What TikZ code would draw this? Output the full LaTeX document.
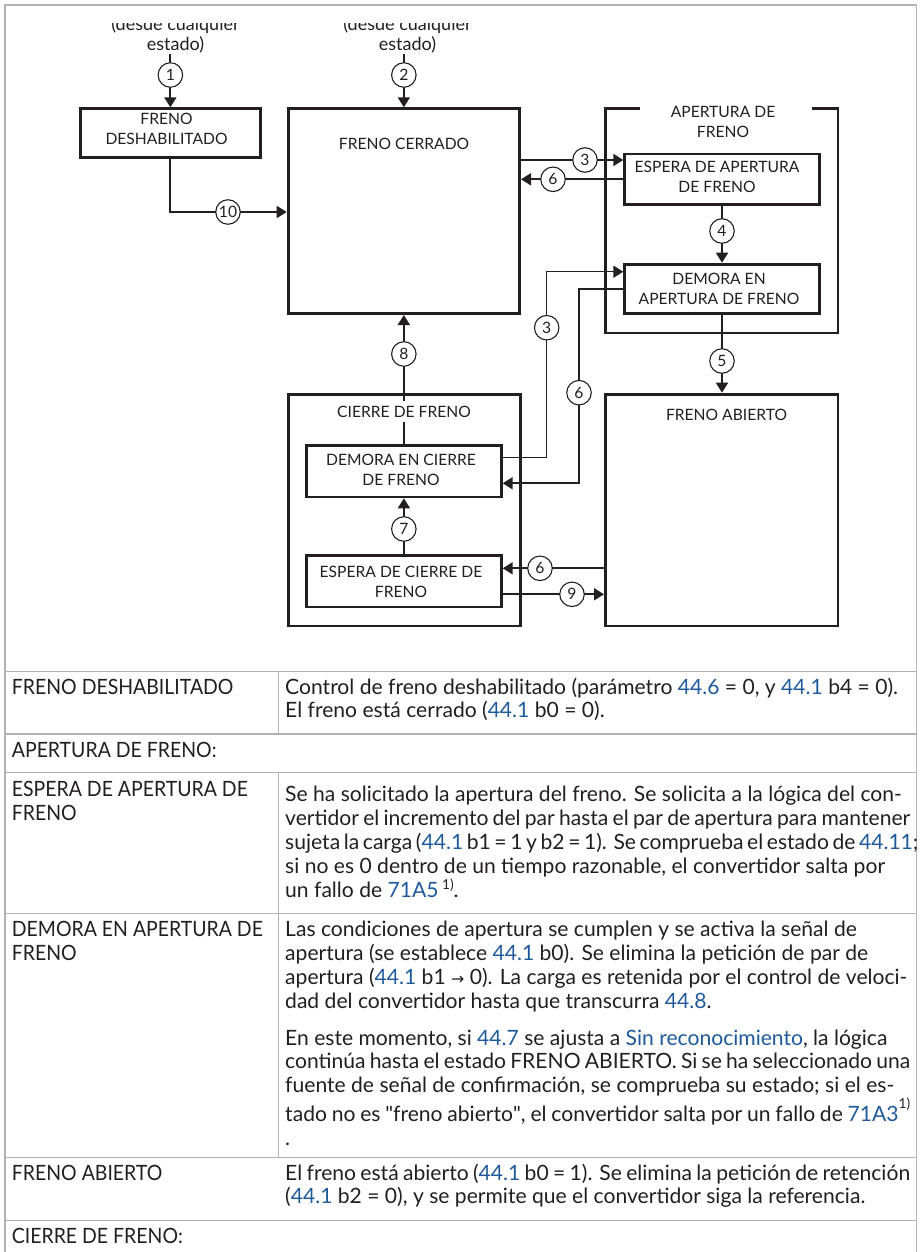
\documentclass[tikz,border=0pt]{standalone}
\usepackage{graphicx}
\usepackage{fontspec}
\setmainfont{Lato}
\newfontfamily\plainlato{Lato}
\newfontfamily\symfont{DejaVu Sans}
\usetikzlibrary{arrows.meta}

\definecolor{ink}{RGB}{35,31,32}
\definecolor{rule}{RGB}{178,178,178}
\definecolor{linkblue}{RGB}{30,90,155}

% font sizes and scale factors are derived from the widths of sample strings
\newlength\mw
\AtBeginDocument{%
  \setbox0\hbox{\fontsize{10pt}{12pt}\selectfont Control de freno deshabilitado (parámetro 44.6 = 0, y 44.1 b4 = 0).}%
  \setlength\mw{\wd0}\pgfmathsetmacro\tabfs{10*613/\mw}\global\let\tabfs\tabfs
  \setbox0\hbox{\fontsize{\tabfs pt}{12pt}\selectfont DEMORA EN APERTURA DE}%
  \setlength\mw{\wd0}\pgfmathsetmacro\capsc{251/\mw}\global\let\capsc\capsc
  \setbox0\hbox{\fontsize{10pt}{12pt}\selectfont APERTURA DE FRENO}%
  \setlength\mw{\wd0}\pgfmathsetmacro\dfs{10*160.6/\mw}\global\let\dfs\dfs
  \setbox0\hbox{\fontsize{10pt}{12pt}\selectfont estado)}%
  \setlength\mw{\wd0}\pgfmathsetmacro\dlfs{10*57.3/\mw}\global\let\dlfs\dlfs
  \pgfmathsetmacro\supfs{0.65*\tabfs}\global\let\supfs\supfs
  \pgfmathsetmacro\arrfs{0.75*\tabfs}\global\let\arrfs\arrfs}

\newcommand\tabfont{\fontsize{\tabfs pt}{23.9pt}\selectfont}
\newcommand\dfont{\fontsize{\dfs pt}{20pt}\selectfont}
\newcommand\dlfont{\fontsize{\dlfs pt}{20pt}\selectfont}
\newcommand\lk[1]{\textcolor{linkblue}{#1}}
\newcommand\fnmark[1]{\raisebox{#1}{\fontsize{\supfs pt}{\supfs pt}\selectfont 1)}}
\newcommand\rarr{{\symfont\fontsize{\arrfs pt}{\arrfs pt}\selectfont →}}
\newcommand\qt{{\plainlato"}}
\newcommand\caps[1]{\scalebox{\capsc}[1]{#1}}

% text column width; a line longer than this is squeezed to fit
\newlength\colw \setlength\colw{625pt}
\newcommand\fl[1]{\setbox0\hbox{#1}\ifdim\wd0>\colw\hbox to\colw{#1}\else\box0\fi}
\newcommand\lpar[1]{\vtop{\halign{##\hfil\cr#1\crcr}}}
\newcommand\cpar[1]{\vtop{\halign{\hfil##\hfil\cr#1\crcr}}}

\begin{document}
\begin{tikzpicture}[x=1pt,y=-1pt,
  box/.style={draw=ink,line width=2.8pt,inner sep=0pt},
  conn/.style={draw=ink,line width=1.8pt,-{Triangle[length=10pt,width=12pt]}},
  num/.style={circle,draw=ink,line width=1.1pt,fill=white,minimum size=24.5pt,inner sep=0pt,font=\dfont,text=ink},
  lbl/.style={inner sep=0pt,font=\dfont,text=ink,anchor=base},
  tx/.style={inner sep=0pt,font=\tabfont,text=ink,anchor=base west},
  gridline/.style={draw=rule,line width=1.5pt}]

\useasboundingbox (0,0) rectangle (920,1252);
\fill[white] (0,0) rectangle (920,1252);

% ---------- table frame ----------
\draw[gridline] (5,1252) -- (5,5) -- (916.7,5) -- (916.7,1252);
\foreach \yy in {671.7,734,772.7,913.3,1157.7,1220.7}
  \draw[gridline] (5,\yy) -- (916.7,\yy);
\draw[gridline] (278.3,671.7) -- (278.3,734);
\draw[gridline] (278.3,772.7) -- (278.3,1157.7);

% ---------- state boxes ----------
\node[box,minimum width=179.9pt,minimum height=49.2pt] (dis) at (170.35,133.3) {};
\node[box,minimum width=231.5pt,minimum height=204.9pt] (cer) at (403.85,211.15) {};
\node[box,minimum width=194.6pt,minimum height=50.5pt] (esa) at (722,179.35) {};
\node[box,minimum width=194.6pt,minimum height=49.5pt] (dea) at (722,288.85) {};
\node[box,minimum width=232.5pt,minimum height=231.8pt] (abi) at (721.65,510) {};
\node[box,minimum width=232.2pt,minimum height=231.8pt] (cie) at (404.2,510) {};
\node[box,minimum width=194.9pt,minimum height=51.2pt] (dec) at (403.85,471.3) {};
\node[box,minimum width=194.9pt,minimum height=51.2pt] (esc) at (403.85,581.3) {};
% open-topped group frame for the opening states
\draw[ink,line width=2.8pt] (640,108.7) -| (605.4,332.9) -| (837.9,108.7) -- (811.7,108.7);

% ---------- entry labels ----------
\begin{scope}
  \clip (0,23.3) rectangle (920,60);
  \node[lbl,font=\dlfont] (src1) at (175.5,30.7) {\cpar{(desde cualquier\cr estado)}};
  \node[lbl,font=\dlfont] (src2) at (407.5,30.7) {\cpar{(desde cualquier\cr estado)}};
\end{scope}

% ---------- transition marks ----------
\coordinate (p1) at (170.35,75);
\coordinate (p2) at (403.85,75);
\coordinate (p3a) at (585,160);
\coordinate (p6a) at (553,179.3);
\coordinate (p4) at (722,231);
\coordinate (p5) at (722,361);
\coordinate (p8) at (403.85,354);
\coordinate (p7) at (403.85,529);
\coordinate (p10) at (228,212);
\coordinate (p3b) at (546.7,327.7);
\coordinate (p6b) at (579,392.7);
\coordinate (p6c) at (540,568.3);
\coordinate (p9) at (572,594.3);
\coordinate (k3a) at (546.7,457.7);
\coordinate (k3b) at (546.7,271.7);
\coordinate (k6a) at (579,289.3);
\coordinate (k6b) at (579,483.3);

% ---------- connectors ----------
\draw[conn] (src1.south -| p1) -- (dis.north);
\draw[conn] (src2.south -| p2) -- (cer.north);
\draw[conn] (dis.south) |- (cer.west |- p10);
\draw[conn] (cer.east |- p3a) -- (esa.west |- p3a);
\draw[conn] (esa.west |- p6a) -- (cer.east |- p6a);
\draw[conn] (esa.south) -- (dea.north);
\draw[conn] (dea.south) -- (dea.south |- abi.north);
\draw[conn] (dec.north) -- (cer.south);
\draw[conn] (esc.north) -- (dec.south);
\draw[conn,line width=1.5pt] (dec.east |- k3a) -- (k3a) -- (k3b) -- (dea.west |- k3b);
\draw[conn,line width=1.7pt] (dea.west |- k6a) -- (k6a) -- (k6b) -- (dec.east |- k6b);
\draw[conn] (abi.west |- p6c) -- (esc.east |- p6c);
\draw[conn] (esc.east |- p9) -- (abi.west |- p9);

\node[num] (n1) at (p1) {1};
\node[num] (n2) at (p2) {2};
\node[num] (n3a) at (p3a) {3};
\node[num] (n6a) at (p6a) {6};
\node[num] (n4) at (p4) {4};
\node[num] (n5) at (p5) {5};
\node[num] (n8) at (p8) {8};
\node[num] (n7) at (p7) {7};
\node[num] (n10) at (p10) {10};
\node[num] (n3b) at (p3b) {3};
\node[num] (n6b) at (p6b) {6};
\node[num] (n6c) at (p6c) {6};
\node[num] (n9) at (p9) {9};

% ---------- state names ----------
\node[lbl] (tdis) at (166.5,125) {\cpar{FRENO\cr DESHABILITADO}};
\node[lbl] (tcer) at (404,150) {FRENO CERRADO};
\node[lbl] (tape) at (723,117.3) {\cpar{APERTURA DE\cr FRENO}};
\node[lbl] (tesa) at (717,172.7) {\cpar{ESPERA DE APERTURA\cr DE FRENO}};
\node[lbl] (tdea) at (719,284) {\cpar{DEMORA EN\cr APERTURA DE FRENO}};
\node[lbl] (tabi) at (726.5,420) {FRENO ABIERTO};
\node[lbl,fill=white,text height=11pt,text depth=0pt,inner xsep=3pt,inner ysep=5pt] (tcie) at (404,417.3) {CIERRE DE FRENO};
\node[lbl] (tdec) at (401,465) {\cpar{DEMORA EN CIERRE\cr DE FRENO}};
\node[lbl] (tesc) at (401,577.3) {\cpar{ESPERA DE CIERRE DE\cr FRENO}};

% ---------- table text ----------
\node[tx] (a1) at (11.7,694) {\caps{FRENO DESHABILITADO}};
\node[tx] (b1) at (285,694) {\lpar{%
  \fl{Control de freno deshabilitado (parámetro \lk{44.6} = 0, y \lk{44.1} b4 = 0).}\cr
  \fl{El freno está cerrado (\lk{44.1} b0 = 0).}}};

\node[tx] (a2) at (11.7,757.3) {\caps{APERTURA DE FRENO:}};

\node[tx] (a3) at (11.7,796.7) {\lpar{\caps{ESPERA DE APERTURA DE}\cr \caps{FRENO}}};
\node[tx] (b3) at (285,801.7) {\lpar{%
  \fl{Se ha solicitado la apertura del freno. Se solicita a la lógica del con-}\cr
  \fl{vertidor el incremento del par hasta el par de apertura para mantener}\cr
  \fl{sujeta la carga (\lk{44.1} b1 = 1 y b2 = 1). Se comprueba el estado de \lk{44.11};}\cr
  \fl{si no es 0 dentro de un tiempo razonable, el convertidor salta por}\cr
  \fl{un fallo de \lk{71A5}\,\fnmark{8pt}.}}};

\node[tx] (a4) at (11.7,936.7) {\lpar{\caps{DEMORA EN APERTURA DE}\cr \caps{FRENO}}};
\node[tx] (b4) at (285,936.7) {\lpar{%
  \fl{Las condiciones de apertura se cumplen y se activa la señal de}\cr
  \fl{apertura (se establece \lk{44.1} b0). Se elimina la petición de par de}\cr
  \fl{apertura (\lk{44.1} b1 \rarr{} 0). La carga es retenida por el control de veloci-}\cr
  \fl{dad del convertidor hasta que transcurra \lk{44.8}.}}};
\node[tx] (c4) at (285,1045) {\lpar{%
  \fl{En este momento, si \lk{44.7} se ajusta a \lk{Sin reconocimiento}, la lógica}\cr
  \fl{continúa hasta el estado FRENO ABIERTO. Si se ha seleccionado una}\cr
  \fl{fuente de señal de confirmación, se comprueba su estado; si el es-}\cr
  \fl{tado no es \qt freno abierto\qt, el convertidor salta por un fallo de \lk{71A3}\fnmark{13.5pt}}\cr
  .}};

\node[tx] (a5) at (11.7,1180) {\caps{FRENO ABIERTO}};
\node[tx] (b5) at (285,1180) {\lpar{%
  \fl{El freno está abierto (\lk{44.1} b0 = 1). Se elimina la petición de retención}\cr
  \fl{(\lk{44.1} b2 = 0), y se permite que el convertidor siga la referencia.}}};

\node[tx] (a6) at (11.7,1243.3) {\caps{CIERRE DE FRENO:}};
\end{tikzpicture}
\end{document}
